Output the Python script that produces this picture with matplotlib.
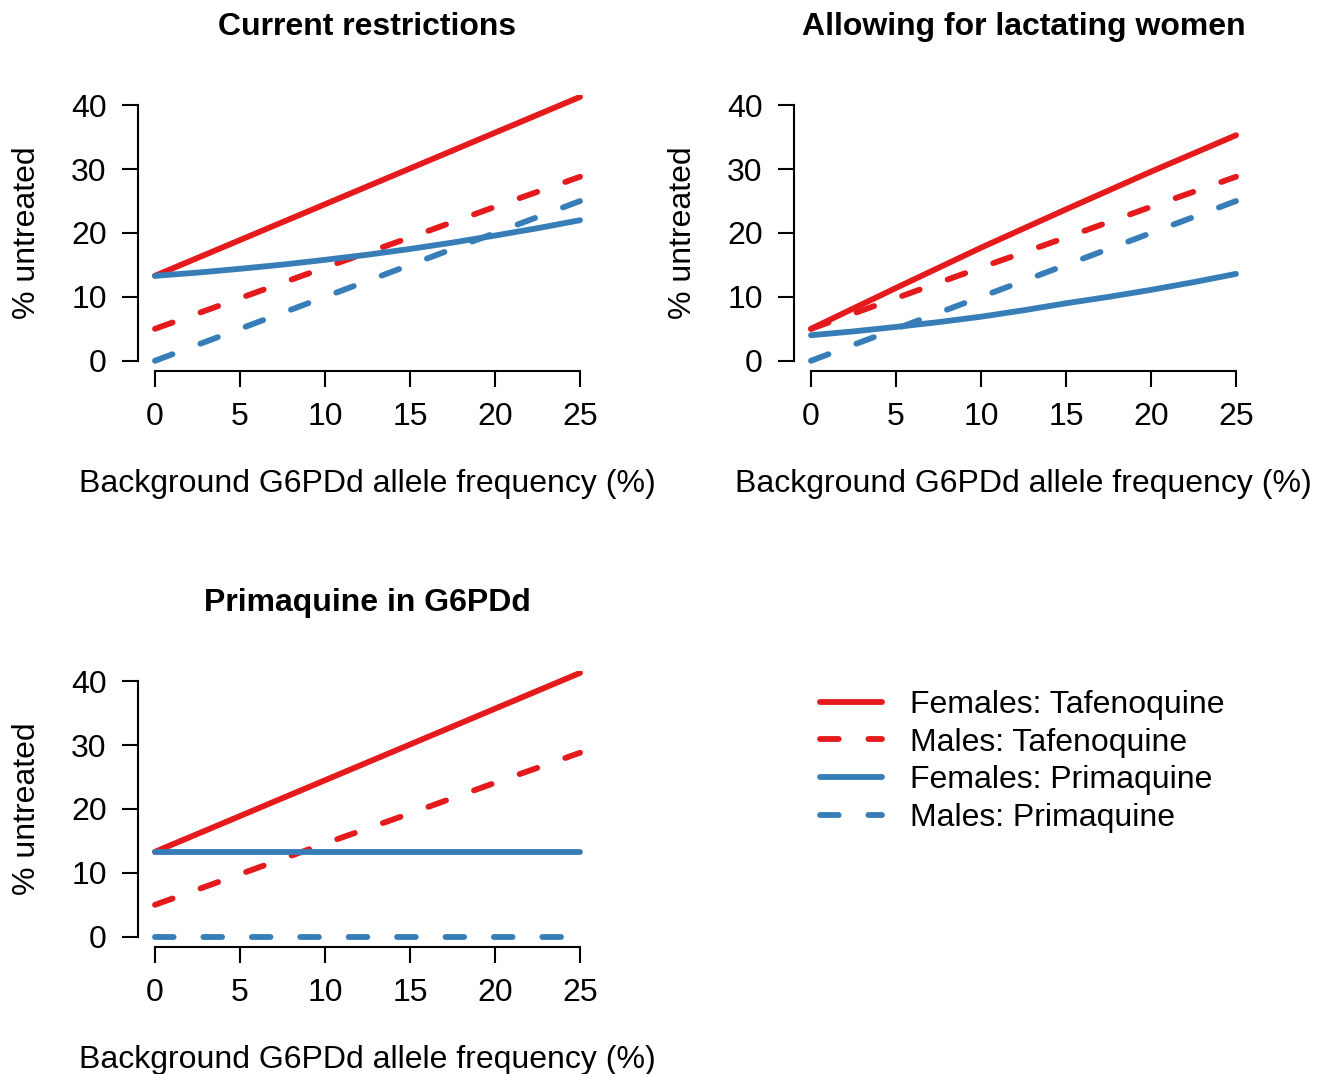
import matplotlib
matplotlib.use('Agg')
import matplotlib.pyplot as plt
from matplotlib.lines import Line2D

plt.rcParams['font.family'] = ['Liberation Sans', 'DejaVu Sans']

# allele frequency (%)
freq = [0, 5, 10, 15, 20, 25]
freq_fine = [0, 2.5, 5, 7.5, 10, 12.5, 15, 17.5, 20, 22.5, 25]

# Current restrictions
p1_fem_taf = [13.3, 18.9, 24.5, 30.1, 35.7, 41.3]
p1_male_taf = [5.0, 9.8, 14.6, 19.3, 24.1, 28.8]
p1_fem_pq = [13.3, 13.8, 14.4, 15.05, 15.8, 16.6, 17.5, 18.5, 19.6, 20.75, 22.0]
p1_male_pq = [0.0, 5.0, 10.0, 15.0, 20.0, 25.0]

# Allowing for lactating women
p2_fem_taf = [5.0, 11.4, 17.7, 23.7, 29.6, 35.3]
p2_male_taf = [5.0, 9.8, 14.6, 19.3, 24.1, 28.8]
p2_fem_pq = [4.0, 4.6, 5.3, 6.05, 6.9, 7.9, 9.0, 10.0, 11.1, 12.3, 13.6]
p2_male_pq = [0.0, 5.0, 10.0, 15.0, 20.0, 25.0]

# Primaquine in G6PDd
p3_fem_taf = [13.3, 18.9, 24.5, 30.1, 35.7, 41.3]
p3_male_taf = [5.0, 9.8, 14.6, 19.3, 24.1, 28.8]
p3_fem_pq = [13.3, 13.3, 13.3, 13.3, 13.3, 13.3]
p3_male_pq = [0.0, 0.0, 0.0, 0.0, 0.0, 0.0]

titles = ['Current restrictions', 'Allowing for lactating women', 'Primaquine in G6PDd']
labels = ['Females: Tafenoquine', 'Males: Tafenoquine',
          'Females: Primaquine', 'Males: Primaquine']

red = '#E41A1C'
blue = '#377EB8'
lw = 4.2
dash = (3.2, 5.1)
fs = 23

fig = plt.figure(figsize=(13.28, 10.74), dpi=100)

W, H = 1328, 1074
positions = [(138, 371), (794, 371), (138, 947)]
panels = [
    (p1_fem_taf, p1_male_taf, p1_fem_pq, p1_male_pq),
    (p2_fem_taf, p2_male_taf, p2_fem_pq, p2_male_pq),
    (p3_fem_taf, p3_male_taf, p3_fem_pq, p3_male_pq),
]

for (left, bottom), title, (ft, mt, fp, mp) in zip(positions, titles, panels):
    ax = fig.add_axes([left / W, (H - bottom) / H, 459 / W, 276 / H])
    fp_x = freq_fine if len(fp) == len(freq_fine) else freq
    ax.plot(freq, ft, color=red, lw=lw, solid_capstyle='round')
    ax.plot(freq, mt, color=red, lw=lw, dashes=dash, dash_capstyle='round')
    ax.plot(fp_x, fp, color=blue, lw=lw, solid_capstyle='round')
    ax.plot(freq, mp, color=blue, lw=lw, dashes=dash, dash_capstyle='round')

    ax.set_xlim(-1, 26)
    ax.set_ylim(-1.6, 41.6)
    ax.set_xticks([0, 5, 10, 15, 20, 25])
    ax.set_yticks([0, 10, 20, 30, 40])
    for s in ['top', 'right']:
        ax.spines[s].set_visible(False)
    ax.spines['left'].set_bounds(0, 40)
    ax.spines['bottom'].set_bounds(0, 25)
    for s in ['left', 'bottom']:
        ax.spines[s].set_linewidth(1.5)
    ax.tick_params(length=11.5, width=1.5, labelsize=fs, pad=11)

    ax.set_xlabel('Background G6PDd allele frequency (%)', fontsize=fs, va='center')
    ax.xaxis.set_label_coords(0.5, -0.409)
    ax.set_ylabel('% untreated', fontsize=fs, va='center')
    ax.yaxis.set_label_coords(-0.2418, 0.5)
    ax.text(0.5, 1.247, title, transform=ax.transAxes, ha='center', va='center',
            fontsize=fs, fontweight='bold')

handles = [
    Line2D([], [], color=red, lw=lw, solid_capstyle='round'),
    Line2D([], [], color=red, lw=lw, dashes=dash, dash_capstyle='round'),
    Line2D([], [], color=blue, lw=lw, solid_capstyle='round'),
    Line2D([], [], color=blue, lw=lw, dashes=dash, dash_capstyle='round'),
]
fig.legend(handles, labels, loc='upper left', bbox_to_anchor=(820 / W, (H - 690) / H),
           frameon=False, fontsize=fs, handlelength=1.94, handletextpad=0.88,
           labelspacing=0.24, borderpad=0, borderaxespad=0)

fig.savefig('out.png', dpi=100)
